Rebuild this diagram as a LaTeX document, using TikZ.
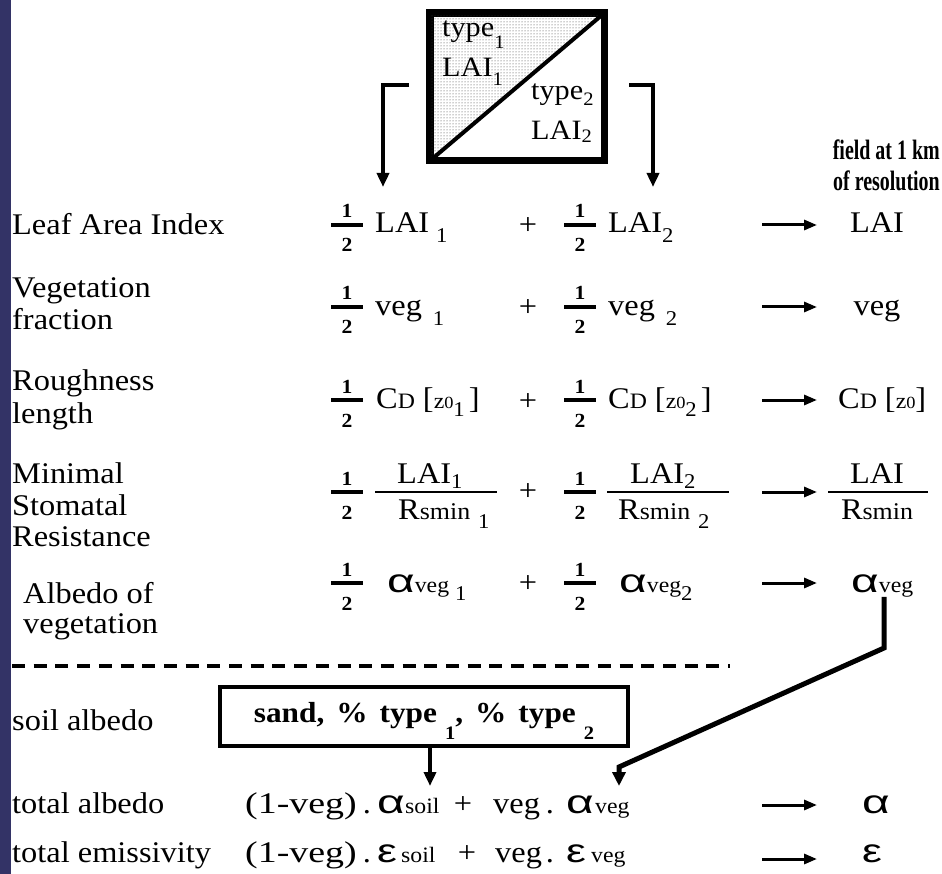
\documentclass[tikz,border=0pt]{standalone}
\usepackage{fontspec}
\usepackage{graphicx}
\setmainfont{Liberation Serif}[FakeStretch=1.08]
\newfontfamily\grk{Liberation Sans}
\usetikzlibrary{arrows.meta,patterns}
\definecolor{barblue}{RGB}{51,51,102}
\newcommand\lsub[2][9]{\raisebox{-#1pt}{\fontsize{21}{21}\selectfont #2}}
\newcommand\bsub[2][6]{\raisebox{-#1pt}{\fontsize{19}{19}\selectfont #2}}
\newcommand\sm[1]{{\fontsize{22}{22}\selectfont #1}}
\newcommand\alp{{\grk\fontsize{33}{33}\selectfont\scalebox{1.45}[1]{α}}}
\newcommand\eps{{\grk\fontsize{33}{33}\selectfont\scalebox{1.35}[1]{ε}}}
\newcommand\half[3]{%
  \node[num] (#1n) at (#2,#3-7) {1};
  \draw[line width=4pt] (#2-16,#3) -- (#2+16,#3);
  \node[num] (#1d) at (#2,#3+27) {2};}
\tikzset{
  lbl/.style={anchor=base west, inner sep=0pt, font=\fontsize{30}{32}\selectfont},
  ctr/.style={anchor=base, inner sep=0pt, font=\fontsize{30}{32}\selectfont},
  num/.style={anchor=base, inner sep=0pt, font=\fontsize{20}{20}\selectfont\bfseries},
  cell/.style={anchor=base west, inner sep=0pt, font=\fontsize{28}{28}\selectfont},
  hdr/.style={anchor=base east, inner sep=0pt, font=\fontsize{28}{28}\selectfont\bfseries},
  arr/.style={-{Triangle[width=10pt,length=13pt]}, line width=3pt},
  bigarr/.style={-{Triangle[width=12pt,length=14pt]}, line width=3.5pt},
  fbar/.style={line width=2pt},
}
\begin{document}
\begin{tikzpicture}[x=1pt,y=-1pt]
\useasboundingbox (0,0) rectangle (942,874);
\fill[barblue] (0,0) rectangle (11,874);

% top cell
\node[draw, line width=5pt, minimum width=172pt, minimum height=145pt, inner sep=0pt] (cellbox) at (517,87) {};
\fill[pattern=dots, pattern color=black!80] (cellbox.north west) -- (cellbox.north east) -- (cellbox.south west) -- cycle;
\draw[line width=4pt] (cellbox.south west) -- (cellbox.north east);
\draw[line width=5pt] (cellbox.north west) rectangle (cellbox.south east);
\node[cell] (t1) at (442,37) {type\bsub[12]{1}};
\node[cell] (l1) at (442,77) {LAI\bsub[9]{1}};
\node[cell] (t2) at (531,100) {type\bsub[6]{2}};
\node[cell] (l2) at (531,140) {LAI\bsub[3]{2}};
\coordinate (bl1) at (409,85); \coordinate (bl2) at (383,187);
\coordinate (br1) at (629,85); \coordinate (br2) at (653,187);
\draw[bigarr] (bl1) -| (bl2);
\draw[bigarr] (br1) -| (br2);

\node[hdr] (f1) at (940,160) {\scalebox{0.66}[1]{field at 1 km}};
\node[hdr] (f2) at (940,191) {\scalebox{0.66}[1]{of resolution}};

% left labels
\node[lbl] (L1) at (12,235) {Leaf Area Index};
\node[lbl] (L2a) at (12,298) {Vegetation};
\node[lbl] (L2b) at (12,330) {fraction};
\node[lbl] (L3a) at (12,390) {Roughness};
\node[lbl] (L3b) at (12,423) {length};
\node[lbl] (L4a) at (12,483) {Minimal};
\node[lbl] (L4b) at (12,515) {Stomatal};
\node[lbl] (L4c) at (12,546) {Resistance};
\node[lbl] (L5a) at (23,603) {Albedo of};
\node[lbl] (L5b) at (23,633) {vegetation};

% row 1
\half{h1a}{347}{225}
\node[lbl] (r1a) at (375,233) {LAI\hspace{7pt}\lsub[10]{1}};
\node[ctr] (p1) at (528,235) {+};
\half{h1b}{580}{225}
\node[lbl] (r1b) at (608,233) {LAI\lsub[10]{2}};
\coordinate (a1s) at (762,225); \coordinate (a1e) at (817,225);
\draw[arr] (a1s) -- (a1e);
\node[ctr] (R1) at (877,233) {LAI};

% row 2
\half{h2a}{347}{307}
\node[lbl] (r2a) at (375,316) {veg\hspace{11pt}\lsub[10]{1}};
\node[ctr] (p2) at (528,317) {+};
\half{h2b}{580}{307}
\node[lbl] (r2b) at (608,316) {veg\hspace{11pt}\lsub[10]{2}};
\coordinate (a2s) at (762,307); \coordinate (a2e) at (817,307);
\draw[arr] (a2s) -- (a2e);
\node[ctr] (R2) at (877,316) {veg};

% row 3
\half{h3a}{347}{400}
\node[lbl] (r3a) at (376,408) {C\sm{D}\hspace{8pt}[\sm{z}{\fontsize{17}{17}\selectfont 0}\lsub[8]{1}\hspace{4pt}]};
\node[ctr] (p3) at (528,410) {+};
\half{h3b}{580}{400}
\node[lbl] (r3b) at (608,408) {C\sm{D}\hspace{8pt}[\sm{z}{\fontsize{17}{17}\selectfont 0}\lsub[8]{2}\hspace{4pt}]};
\coordinate (a3s) at (762,400); \coordinate (a3e) at (817,400);
\draw[arr] (a3s) -- (a3e);
\node[lbl] (R3) at (838,408) {C\sm{D}\hspace{8pt}[\sm{z}{\fontsize{17}{17}\selectfont 0}]};

% row 4
\half{h4a}{347}{492}
\draw[fbar] (375,492) -- (497,492);
\node[lbl] (n4a) at (397,483) {LAI\lsub[5]{1}};
\node[lbl] (d4a) at (398,519) {R{\fontsize{24}{24}\selectfont smin}\hspace{8pt}\lsub[9]{1}};
\node[ctr] (p4) at (528,500) {+};
\half{h4b}{580}{492}
\draw[fbar] (607,492) -- (729,492);
\node[lbl] (n4b) at (630,483) {LAI\lsub[5]{2}};
\node[lbl] (d4b) at (618,519) {R{\fontsize{24}{24}\selectfont smin}\hspace{8pt}\lsub[9]{2}};
\coordinate (a4s) at (762,492); \coordinate (a4e) at (817,492);
\draw[arr] (a4s) -- (a4e);
\draw[fbar] (828,492) -- (928,492);
\node[ctr] (n4r) at (877,483) {LAI};
\node[ctr] (d4r) at (877,519) {R{\fontsize{24}{24}\selectfont smin}};

% row 5
\half{h5a}{347}{583}
\node[lbl] (r5a) at (387,592) {\alp\sm{veg}\hspace{6pt}\lsub[8]{1}};
\node[ctr] (p5) at (528,592) {+};
\half{h5b}{580}{583}
\node[lbl] (r5b) at (619,592) {\alp\sm{veg}\lsub[8]{2}};
\coordinate (a5s) at (762,583); \coordinate (a5e) at (817,583);
\draw[arr] (a5s) -- (a5e);
\node[lbl] (R5) at (851,592) {\alp\sm{veg}};

% dashed separator
\coordinate (ds) at (12,666); \coordinate (de) at (730,666);
\draw[line width=4pt, dash pattern=on 13pt off 8.7pt] (ds) -- (de);

% soil
\node[lbl] (L6) at (12,730) {soil albedo};
\node[draw, line width=4.5pt, minimum width=408pt, minimum height=59pt, inner sep=0pt,
      text height=25pt, text depth=14pt,
      font=\fontsize{29}{30}\selectfont\bfseries] (soil) at (424,716.5)
  {sand,\hspace{12pt}\%\hspace{12pt}type\hspace{8pt}\bsub[17]{1},\hspace{12pt}\%\hspace{12pt}type\hspace{8pt}\bsub[17]{2}};

% total albedo
\node[lbl] (L7) at (12,813) {total albedo};
\node[lbl] (e1) at (245,813) {\scalebox{1.17}[1]{(1-veg)}};
\node[ctr] (e2) at (367,813) {.};
\node[lbl] (e3) at (377,813) {\alp};
\node[lbl] (e4) at (405,813) {\sm{soil}};
\node[ctr] (e5) at (463,813) {+};
\node[lbl] (e6) at (493,813) {veg};
\node[ctr] (e7) at (550,813) {.};
\node[lbl] (e8) at (566,813) {\alp};
\node[lbl] (e9) at (595,813) {\sm{veg}};
\coordinate (a6s) at (762,805); \coordinate (a6e) at (817,805);
\draw[arr] (a6s) -- (a6e);
\node[lbl] (R6) at (862,813) {\alp};

% total emissivity
\node[lbl] (L8) at (12,862) {total emissivity};
\node[lbl] (g1) at (245,862) {\scalebox{1.17}[1]{(1-veg)}};
\node[ctr] (g2) at (367,862) {.};
\node[lbl] (g3) at (377,862) {\eps};
\node[lbl] (g4) at (401,862) {\sm{soil}};
\node[ctr] (g5) at (467,862) {+};
\node[lbl] (g6) at (495,862) {veg};
\node[ctr] (g7) at (550,862) {.};
\node[lbl] (g8) at (566,862) {\eps};
\node[lbl] (g9) at (591,862) {\sm{veg}};
\coordinate (a7s) at (762,859); \coordinate (a7e) at (817,859);
\draw[arr] (a7s) -- (a7e);
\node[lbl] (R7) at (862,862) {\eps};

% connectors to total albedo
\coordinate (sa) at (430,786);
\draw[bigarr] ([xshift=6pt]soil.south) -- (sa);
\coordinate (v1) at (884,648); \coordinate (v2) at (619,767); \coordinate (v3) at (619,786);
\draw[line width=5pt, -{Triangle[width=13pt,length=14pt]}, line join=miter] (R5.south -| v1) -- (v1) -- (v2) -- (v3);
\end{tikzpicture}
\end{document}
